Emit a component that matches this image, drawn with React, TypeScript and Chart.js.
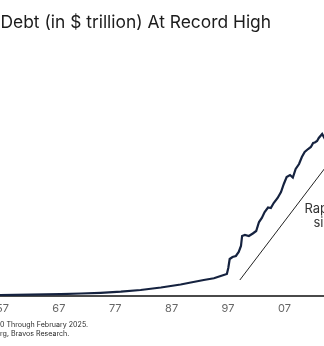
import React, { useEffect, useRef } from "react";
import { Chart, registerables } from "chart.js";

Chart.register(...registerables);

const titleText = "Debt (in $ trillion) At Record High";
const footnotes = ["0 Through February 2025.", "rg, Bravos Research."];
const annotationLines = ["Rapidly rising", "since 1997"];
const annotationAnchor = { year: 2017.9, value: 1.74 };

const tickYears = [1957, 1967, 1977, 1987, 1997, 2007, 2017];

const years = [
  1950, 1956.6, 1962, 1967.3, 1970.9, 1974.4, 1978, 1981.5, 1985.1, 1988.6, 1990.4,
  1992.7, 1994.5, 1995.7, 1996.8, 1997.05, 1997.3, 1997.8, 1998.4, 1998.9, 1999.3,
  1999.5, 2000.0, 2000.7, 2001.4, 2002.0, 2002.5, 2003.0, 2003.5, 2004.1, 2004.6,
  2005.1, 2005.8, 2006.4, 2006.9, 2007.4, 2008.0, 2008.5, 2009.0, 2009.6, 2010.1,
  2010.6, 2011.2, 2011.7, 2012.1, 2012.4, 2012.8, 2013.1, 2013.7, 2014.2, 2014.7,
];
const debt = [
  0.01, 0.02, 0.026, 0.036, 0.05, 0.064, 0.086, 0.12, 0.17, 0.23, 0.27,
  0.32, 0.354, 0.4, 0.44, 0.56, 0.74, 0.78, 0.8, 0.88, 1.0,
  1.2, 1.22, 1.2, 1.25, 1.3, 1.48, 1.56, 1.68, 1.77, 1.76,
  1.86, 1.96, 2.08, 2.24, 2.38, 2.42, 2.37, 2.54, 2.64, 2.78,
  2.88, 2.94, 2.98, 3.06, 3.07, 3.1, 3.16, 3.24, 3.14, 3.08,
];

const trendYears = [1999.1, 2016.5];
const trendValues = [0.32, 2.9];

const X_MIN = 1950;
const X_MAX = 2025.2;
const Y_MAX = 5;
const CANVAS_LEFT = -37;
const CANVAS_W = 424;
const CANVAS_H = 346;

const textPlugin = {
  id: "textPlugin",
  afterDraw(chart: any) {
    const ctx = chart.ctx;
    const off = -CANVAS_LEFT;
    ctx.save();
    // title
    ctx.fillStyle = "#1c1c1c";
    ctx.font = "400 17.4px Inter, 'Noto Sans', sans-serif";
    ctx.textAlign = "left";
    ctx.textBaseline = "alphabetic";
    ctx.fillText(titleText, off + 0.5, 28);
    // footnotes
    ctx.fillStyle = "#2a2a2a";
    ctx.font = "400 7.1px Inter, 'Noto Sans', sans-serif";
    ctx.fillText(footnotes[0], off, 327);
    ctx.fillText(footnotes[1], off, 336);
    // annotation
    const xs = chart.scales.x;
    const ys = chart.scales.y;
    const cx = xs.getPixelForValue(annotationAnchor.year);
    const cy = ys.getPixelForValue(annotationAnchor.value);
    ctx.fillStyle = "#333333";
    ctx.font = "400 13px Inter, 'Noto Sans', sans-serif";
    ctx.textAlign = "center";
    ctx.textBaseline = "middle";
    annotationLines.forEach((t, i) => ctx.fillText(t, cx, cy + i * 14));
    ctx.restore();
  },
};

export default function App() {
  const ref = useRef<HTMLCanvasElement>(null);
  useEffect(() => {
    if (!ref.current) return;
    const chart = new Chart(ref.current, {
      type: "line",
      data: {
        datasets: [
          {
            data: years.map((y, i) => ({ x: y, y: debt[i] })),
            borderColor: "#15223f",
            borderWidth: 2.2,
            pointRadius: 0,
            tension: 0,
            fill: false,
          },
          {
            data: trendYears.map((y, i) => ({ x: y, y: trendValues[i] })),
            borderColor: "#222222",
            borderWidth: 1,
            pointRadius: 0,
            fill: false,
          },
        ],
      },
      options: {
        animation: false,
        responsive: false,
        layout: { padding: { top: 46, left: 0, right: 0, bottom: 0 } },
        plugins: { legend: { display: false }, tooltip: { enabled: false }, title: { display: false } },
        scales: {
          x: {
            type: "linear",
            min: X_MIN,
            max: X_MAX,
            grid: { display: false, drawTicks: false },
            border: { display: true, color: "#4a4a4a", width: 2 },
            afterBuildTicks: (s: any) => {
              s.ticks = tickYears.map((v) => ({ value: v }));
            },
            afterFit: (s: any) => {
              s.height = 50;
            },
            ticks: {
              padding: 6,
              autoSkip: false,
              maxRotation: 0,
              color: "#666666",
              font: { family: "Inter, 'Noto Sans', sans-serif", size: 11 },
              callback: (v: any) => String(v).slice(2),
            },
          },
          y: {
            display: false,
            min: 0,
            max: Y_MAX,
          },
        },
      },
      plugins: [textPlugin],
    });
    return () => chart.destroy();
  }, []);
  return (
    <div style={{ position: "fixed", left: 0, top: 0, width: 324, height: 346, overflow: "hidden", background: "#fff" }}>
      <canvas ref={ref} width={CANVAS_W} height={CANVAS_H} style={{ position: "absolute", left: CANVAS_LEFT, top: 0, width: CANVAS_W, height: CANVAS_H }} />
    </div>
  );
}
